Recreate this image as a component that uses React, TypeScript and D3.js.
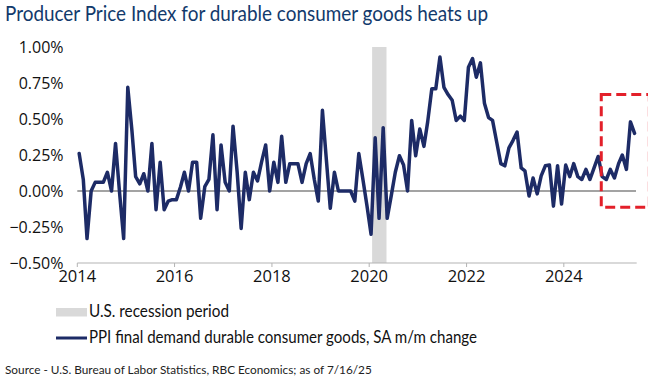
import React from "react";
import * as d3 from "d3";

// Monthly PPI final demand durable consumer goods, SA m/m % change (Jan 2014 – Jun 2025)
const startYear = 2014;
const values2014 = [0.26, 0.08, -0.33, 0.0, 0.06, 0.06, 0.06, 0.13, 0.0, 0.33, -0.02, -0.33];
const values2015 = [0.72, 0.42, 0.1, 0.05, 0.12, 0.0, 0.33, -0.13, 0.2, -0.13, -0.07, -0.06];
const values2016 = [-0.06, 0.03, 0.13, 0.0, 0.2, 0.2, -0.19, 0.03, 0.08, 0.39, -0.13, 0.32];
const values2017 = [0.06, 0.0, 0.45, 0.13, -0.26, 0.13, -0.06, 0.13, 0.07, 0.2, 0.32, 0.0];
const values2018 = [0.2, 0.06, 0.38, 0.06, 0.19, 0.19, 0.19, 0.06, 0.19, 0.26, 0.08, -0.07];
const values2019 = [0.56, 0.2, -0.12, 0.13, 0.0, 0.0, 0.0, 0.0, -0.07, 0.26, 0.08, -0.1];
const values2020 = [-0.3, 0.37, -0.19, 0.44, -0.19, -0.03, 0.13, 0.245, 0.18, 0.0, 0.49, 0.245];
const values2021 = [0.43, 0.31, 0.48, 0.71, 0.71, 0.93, 0.72, 0.67, 0.63, 0.49, 0.52, 0.49];
const values2022 = [0.86, 0.92, 0.79, 0.89, 0.61, 0.51, 0.49, 0.34, 0.19, 0.175, 0.3, 0.35];
const values2023 = [0.41, 0.16, 0.14, -0.035, 0.09, -0.02, 0.105, 0.175, 0.18, -0.105, 0.175, -0.09];
const values2024 = [0.18, 0.1, 0.19, 0.1, 0.08, 0.15, 0.08, 0.16, 0.24, 0.1, 0.08, 0.15];
const values2025 = [0.09, 0.19, 0.25, 0.15, 0.48, 0.4];

const allValues = [
  ...values2014, ...values2015, ...values2016, ...values2017, ...values2018, ...values2019,
  ...values2020, ...values2021, ...values2022, ...values2023, ...values2024, ...values2025,
];

const yTicks = [1.0, 0.75, 0.5, 0.25, 0.0, -0.25, -0.5];
const xTickYears = [2014, 2016, 2018, 2020, 2022, 2024];

const recessionStart = new Date(2020, 0, 23);
const recessionEnd = new Date(2020, 4, 10);

const highlightStart = new Date(2024, 9, 8);
const highlightEnd = new Date(2025, 9, 4);
const highlightTop = 0.67;
const highlightBottom = -0.113;

const title = "Producer Price Index for durable consumer goods heats up";
const legendRecession = "U.S. recession period";
const legendSeries = "PPI final demand durable consumer goods, SA m/m change";
const source = "Source - U.S. Bureau of Labor Statistics, RBC Economics; as of 7/16/25";

const NAVY = "#1d2b66";
const TITLE_BLUE = "#123a6c";

export default function App() {
  const W = 648;
  const H = 378;
  const x = d3
    .scaleTime()
    .domain([new Date(2014, 0, 1), new Date(2025, 6, 1)])
    .range([77.3, 636.7]);
  const y = d3.scaleLinear().domain([-0.5, 1.0]).range([263, 47]);

  const data = allValues.map((v, i) => ({
    date: new Date(startYear, i, 15),
    value: v,
  }));

  const line = d3
    .line<{ date: Date; value: number }>()
    .x((d) => x(d.date))
    .y((d) => y(d.value));

  const fmt = d3.format(".2f");

  return (
    <svg
      width={W}
      height={H}
      style={{ position: "absolute", left: 0, top: 0, background: "#fff" }}
      fontFamily="Lato, 'Open Sans', sans-serif"
    >
      <rect x={0} y={0} width={W} height={H} fill="#fff" />
      <text
        x={5}
        y={21}
        fontSize={20.5}
        fill={TITLE_BLUE}
        textLength={483}
        lengthAdjust="spacingAndGlyphs"
      >
        {title}
      </text>

      {/* recession band */}
      <rect
        x={x(recessionStart)}
        y={y(1.0)}
        width={x(recessionEnd) - x(recessionStart)}
        height={y(-0.5) - y(1.0)}
        fill="#d9d9d9"
      />

      {/* y labels */}
      {yTicks.map((t) => (
        <text
          key={t}
          x={63.5}
          y={y(t) + 5.5}
          textAnchor="end"
          fontSize={16}
          fontFamily="'Open Sans', sans-serif"
          fill="#111"
        >
          {fmt(t) + "%"}
        </text>
      ))}

      {/* zero line */}
      <line x1={x.range()[0]} x2={x.range()[1] - 0.7} y1={y(0)} y2={y(0)} stroke="#a3a3a3" strokeWidth={2} />

      {/* x axis */}
      <line x1={x.range()[0]} x2={x.range()[1]} y1={y(-0.5)} y2={y(-0.5)} stroke="#b3b3b3" strokeWidth={1} />
      {xTickYears.map((yr) => {
        const xp = x(new Date(yr, 0, 1));
        return (
          <g key={yr}>
            <line x1={xp} x2={xp} y1={y(-0.5)} y2={y(-0.5) + 4} stroke="#b3b3b3" strokeWidth={1} />
            <text
              x={xp}
              y={282}
              textAnchor="middle"
              fontSize={16.5}
              fontFamily="'Open Sans', sans-serif"
              fill="#111"
            >
              {yr}
            </text>
          </g>
        );
      })}

      {/* series */}
      <path
        d={line(data) || ""}
        fill="none"
        stroke={NAVY}
        strokeWidth={3.5}
        strokeLinejoin="round"
        strokeLinecap="round"
      />

      {/* highlight box */}
      <rect
        x={x(highlightStart)}
        y={y(highlightTop)}
        width={x(highlightEnd) - x(highlightStart)}
        height={y(highlightBottom) - y(highlightTop)}
        fill="none"
        stroke="#e3202a"
        strokeWidth={3}
        strokeDasharray="10 5"
      />

      {/* legend */}
      <rect x={56} y={308} width={31} height={8.5} fill="#d9d9d9" />
      <text
        x={89}
        y={317}
        fontSize={17}
        fill="#111"
        textLength={140}
        lengthAdjust="spacingAndGlyphs"
      >
        {legendRecession}
      </text>
      <line x1={56} x2={87} y1={338} y2={338} stroke={NAVY} strokeWidth={3} />
      <text
        x={89}
        y={342.5}
        fontSize={17}
        fill="#111"
        textLength={388}
        lengthAdjust="spacingAndGlyphs"
      >
        {legendSeries}
      </text>

      <text x={5} y={374} fontSize={11.8} fill="#222">
        {source}
      </text>
    </svg>
  );
}
